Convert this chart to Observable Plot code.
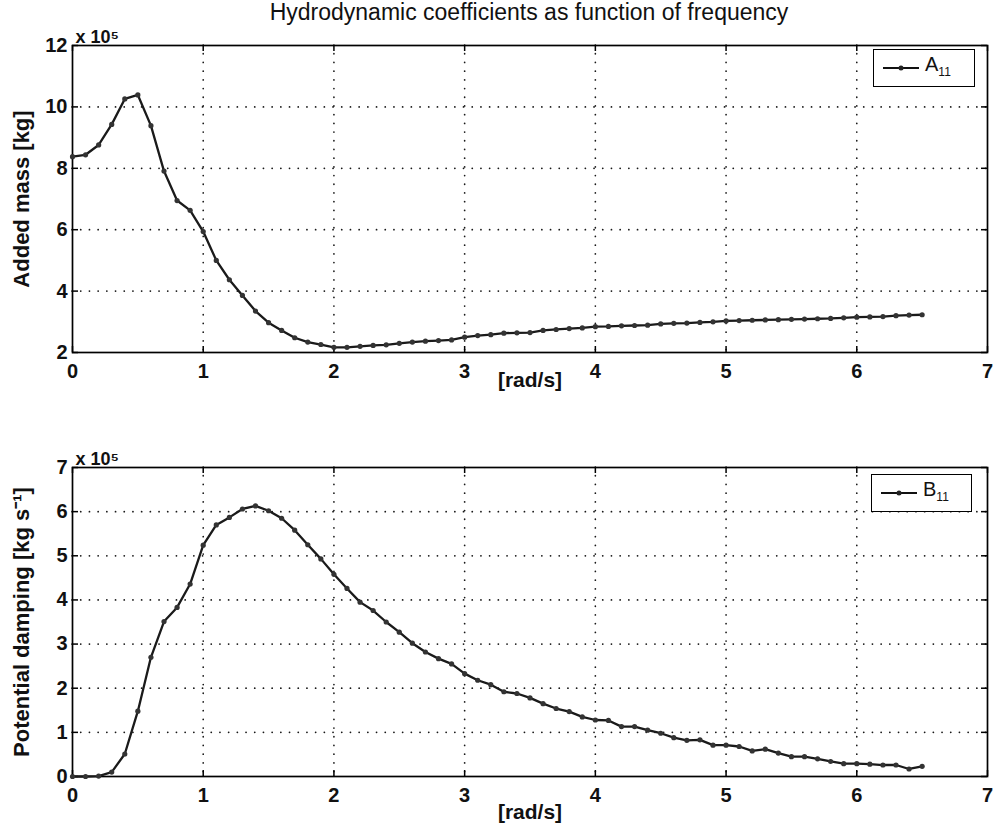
<!DOCTYPE html>
<html>
<head>
<meta charset="utf-8">
<script src="https://cdn.jsdelivr.net/npm/d3@7"></script>
<script src="https://cdn.jsdelivr.net/npm/@observablehq/plot@0.6"></script>
<style>
  body { margin: 0; background: #fff; font-family: "Liberation Sans", Arial, sans-serif; }
  #wrap { position: relative; width: 994px; height: 837px; overflow: hidden; background: #fff; }
  #title { position: absolute; left: 0; width: 1058px; top: -1px; text-align: center; font-size: 23px; color: #111; z-index: 2; }
  .legend { position: absolute; border: 1.6px solid #000; background: #fff; z-index: 2; box-sizing: border-box; }
  .legend svg { position: absolute; left: 9px; top: 50%; margin-top: -5px; }
  .legend .lab { position: absolute; left: 51px; top: 50%; transform: translateY(-58%); font-size: 20px; color: #111; }
  .legend .lab sub { font-size: 12px; vertical-align: -5px; }
</style>
</head>
<body>
<div id="wrap">
  <div id="title">Hydrodynamic coefficients as function of frequency</div>
</div>
<script>
// frequency [rad/s]
const freq = [0.0,0.1,0.2,0.3,0.4,0.5,0.6,0.7,0.8,0.9,1.0,1.1,1.2,1.3,1.4,1.5,1.6,1.7,1.8,1.9,
  2.0,2.1,2.2,2.3,2.4,2.5,2.6,2.7,2.8,2.9,3.0,3.1,3.2,3.3,3.4,3.5,3.6,3.7,3.8,3.9,
  4.0,4.1,4.2,4.3,4.4,4.5,4.6,4.7,4.8,4.9,5.0,5.1,5.2,5.3,5.4,5.5,5.6,5.7,5.8,5.9,
  6.0,6.1,6.2,6.3,6.4,6.5];

// Added mass A11 (x 10^5 kg)
const addedMass = [8.38,8.44,8.76,9.43,10.26,10.39,9.39,7.91,6.95,6.63,5.94,5.00,4.37,3.86,3.35,2.97,2.72,2.48,2.34,2.26,
  2.17,2.17,2.20,2.23,2.25,2.30,2.34,2.37,2.39,2.41,2.50,2.55,2.58,2.63,2.64,2.65,2.72,2.75,2.78,2.80,
  2.84,2.85,2.87,2.88,2.89,2.93,2.95,2.96,2.98,3.00,3.03,3.04,3.05,3.06,3.07,3.08,3.09,3.10,3.11,3.13,
  3.15,3.16,3.17,3.20,3.22,3.23];

// Potential damping B11 (x 10^5 kg/s)
const damping = [0.00,0.00,0.01,0.10,0.51,1.48,2.70,3.51,3.83,4.36,5.24,5.70,5.87,6.06,6.13,6.02,5.85,5.58,5.25,4.93,
  4.58,4.26,3.95,3.76,3.50,3.27,3.02,2.82,2.67,2.55,2.33,2.18,2.08,1.92,1.88,1.78,1.65,1.54,1.47,1.35,
  1.28,1.27,1.13,1.13,1.05,0.98,0.88,0.82,0.83,0.71,0.71,0.68,0.58,0.62,0.53,0.45,0.45,0.40,0.34,0.29,
  0.29,0.28,0.26,0.26,0.17,0.23];

const xTicks = [0,1,2,3,4,5,6,7];
const yTicksA = [2,4,6,8,10,12];
const yTicksB = [0,1,2,3,4,5,6,7];

const labelsA = { y: "Added mass [kg]", x: "[rad/s]", exp: "x 10⁵", legend: "A", sub: "11" };
const labelsB = { y: "Potential damping [kg s⁻¹]", x: "[rad/s]", exp: "x 10⁵", legend: "B", sub: "11" };

const FONT = "'Liberation Sans', Arial, sans-serif";

function panel(values, yTicks, labels, H, mt, mb, xLabelDy) {
  const W = 994, ml = 72, mr = 7;
  const iw = W - ml - mr, ih = H - mt - mb;
  const rows = freq.map((f, i) => ({ f, v: values[i] }));
  const yDomain = [yTicks[0], yTicks[yTicks.length - 1]];
  const grid = { stroke: "#000", strokeOpacity: 0.9, strokeWidth: 1.7, strokeDasharray: "0.1,8.6", strokeLinecap: "round" };
  const tick = { stroke: "#000", strokeWidth: 1.5 };
  return Plot.plot({
    width: W, height: H,
    marginLeft: ml, marginRight: mr, marginTop: mt, marginBottom: mb,
    style: { fontFamily: FONT, background: "transparent", color: "#111", overflow: "visible" },
    x: { domain: [0, 7] },
    y: { domain: yDomain },
    marks: [
      Plot.gridX(xTicks.slice(1, -1), grid),
      Plot.gridY(yTicks.slice(1, -1), grid),
      Plot.tickX(xTicks, { x: d => d, insetTop: ih - 6, ...tick }),
      Plot.tickX(xTicks, { x: d => d, insetBottom: ih - 6, ...tick }),
      Plot.tickY(yTicks, { y: d => d, insetRight: iw - 6, ...tick }),
      Plot.tickY(yTicks, { y: d => d, insetLeft: iw - 6, ...tick }),
      Plot.frame({ stroke: "#000", strokeWidth: 1.7 }),
      Plot.axisX(xTicks, { tickSize: 0, tickPadding: 11, fontSize: 20, fontWeight: "bold", label: null, tickFormat: d => String(d) }),
      Plot.axisY(yTicks, { tickSize: 0, tickPadding: 5, fontSize: 20, fontWeight: "bold", label: null, tickFormat: d => String(d) }),
      Plot.text([labels.y], { text: d => d, frameAnchor: "left", textAnchor: "middle", dx: -51, rotate: -90, fontSize: 22, fontWeight: "bold" }),
      Plot.text([labels.x], { text: d => d, frameAnchor: "bottom", textAnchor: "middle", dy: xLabelDy, fontSize: 21, fontWeight: "bold" }),
      Plot.text([labels.exp], { text: d => d, frameAnchor: "top-left", textAnchor: "start", dx: 3, dy: -15, fontSize: 18, fontWeight: "bold" }),
      Plot.line(rows, { x: "f", y: "v", stroke: "#1a1a1a", strokeWidth: 2.3 }),
      Plot.dot(rows, { x: "f", y: "v", r: 2.6, fill: "#333", stroke: "none" })
    ]
  });
}

function legend(labels, left, top, w, h) {
  const d = document.createElement("div");
  d.className = "legend";
  Object.assign(d.style, { left: left + "px", top: top + "px", width: w + "px", height: h + "px" });
  d.innerHTML = `<svg width="36" height="10"><line x1="0" y1="5" x2="36" y2="5" stroke="#111" stroke-width="1.8"/><circle cx="18" cy="5" r="2.5" fill="#222"/></svg><span class="lab">${labels.legend}<sub>${labels.sub}</sub></span>`;
  return d;
}

const wrap = document.getElementById("wrap");
const p1 = panel(addedMass, yTicksA, labelsA, 400, 45, 48, 34);
Object.assign(p1.style, { position: "absolute", left: "0px", top: "0px" });
wrap.appendChild(p1);

const p2 = panel(damping, yTicksB, labelsB, 417, 47, 61, 42);
Object.assign(p2.style, { position: "absolute", left: "0px", top: "420px" });
wrap.appendChild(p2);

wrap.appendChild(legend(labelsA, 873, 49, 102, 38));
wrap.appendChild(legend(labelsB, 871, 474, 101, 38));
</script>
</body>
</html>
